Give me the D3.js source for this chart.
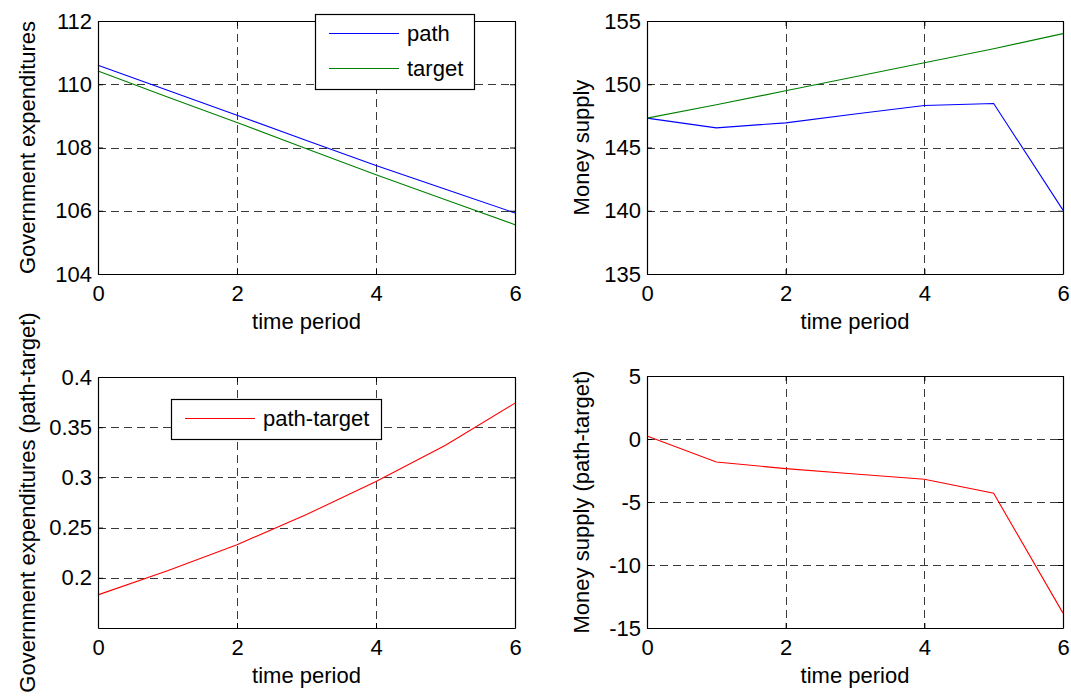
<!DOCTYPE html>
<html>
<head>
<meta charset="utf-8">
<script src="https://cdn.jsdelivr.net/npm/d3@7"></script>
<style>
  html, body { margin: 0; padding: 0; background: #fff; }
  svg { display: block; font-family: "Liberation Sans", Arial, Helvetica, sans-serif; }
</style>
</head>
<body>
<svg id="chart" width="1071" height="698"></svg>
<script>
// time periods shared by all four panels
const periods = [0, 1, 2, 3, 4, 5, 6];

// government expenditures: path and target
const govPath   = [110.60, 109.81, 109.02, 108.22, 107.43, 106.68, 105.93];
const govTarget = [110.42, 109.60, 108.79, 107.96, 107.14, 106.35, 105.56];
// government expenditures: path minus target
const govDiff   = [0.183, 0.207, 0.233, 0.263, 0.296, 0.332, 0.374];

// money supply: path and target
const moneyPath   = [147.32, 146.55, 146.95, 147.65, 148.32, 148.48, 140.05];
const moneyTarget = [147.32, 148.38, 149.48, 150.59, 151.70, 152.81, 154.00];
// money supply: path minus target
const moneyDiff   = [0.24, -1.82, -2.35, -2.78, -3.20, -4.31, -13.82];

// tick labels
const xTicks = [0, 2, 4, 6];
const govTicks = [104, 106, 108, 110, 112];
const govDiffTicks = [0.2, 0.25, 0.3, 0.35, 0.4];
const moneyTicks = [135, 140, 145, 150, 155];
const moneyDiffTicks = [-15, -10, -5, 0, 5];

const svg = d3.select("#chart");
const FONT = 22;

const panels = [
  { left: 98,  top: 21,  width: 417, height: 253, yDomain: [104, 112], yTicks: govTicks,
    yLabel: "Government expenditures", labelX: 35, fmt: d3.format("d"),
    series: [{ values: govPath, color: "#0000ff", name: "path" },
             { values: govTarget, color: "#008000", name: "target" }],
    legend: { x: 315, y: 14, w: 159, h: 75 } },
  { left: 647, top: 21,  width: 416, height: 253, yDomain: [135, 155], yTicks: moneyTicks,
    yLabel: "Money supply", labelX: 589, fmt: d3.format("d"),
    series: [{ values: moneyPath, color: "#0000ff" },
             { values: moneyTarget, color: "#008000" }] },
  { left: 98,  top: 377, width: 417, height: 251, yDomain: [0.15, 0.4], yTicks: govDiffTicks,
    yLabel: "Government expenditures (path-target)", labelX: 35, fmt: d => String(+d.toFixed(2)),
    series: [{ values: govDiff, color: "#ff0000", name: "path-target" }],
    legend: { x: 171, y: 399, w: 210, h: 40 } },
  { left: 647, top: 376, width: 416, height: 252, yDomain: [-15, 5], yTicks: moneyDiffTicks,
    yLabel: "Money supply (path-target)", labelX: 589, fmt: d => String(d),
    series: [{ values: moneyDiff, color: "#ff0000" }] }
];

panels.forEach(p => {
  const g = svg.append("g").attr("transform", `translate(${p.left},${p.top})`);
  const x = d3.scaleLinear().domain([0, 6]).range([0, p.width]);
  const y = d3.scaleLinear().domain(p.yDomain).range([p.height, 0]);

  // dashed grid
  const grid = g.append("g").attr("stroke", "#3a3a3a").attr("stroke-width", 1)
    .attr("stroke-dasharray", "8,5").attr("fill", "none");
  xTicks.forEach(t => {
    if (t === 0 || t === 6) return;
    const xv = Math.round(x(t)) + 0.5;
    grid.append("line").attr("x1", xv).attr("x2", xv).attr("y1", 0).attr("y2", p.height);
  });
  p.yTicks.forEach(t => {
    const yv = Math.round(y(t)) + 0.5;
    if (yv < 1 || yv > p.height - 1) return;
    grid.append("line").attr("x1", 0).attr("x2", p.width).attr("y1", yv).attr("y2", yv);
  });

  // data lines
  const line = d3.line().x((d, i) => x(periods[i])).y(d => y(d));
  p.series.forEach(s => {
    g.append("path").datum(s.values).attr("d", line)
      .attr("fill", "none").attr("stroke", s.color).attr("stroke-width", 1.1);
  });

  // axes with inward ticks on all four sides
  const styleAxis = sel => {
    sel.selectAll(".domain").attr("stroke", "#000").attr("stroke-width", 1.2);
    sel.selectAll(".tick line").attr("stroke", "#000");
    sel.selectAll("text").attr("fill", "#000").attr("font-size", FONT)
      .attr("font-family", "Liberation Sans, Arial, sans-serif");
  };
  g.append("g").attr("transform", `translate(0,${p.height})`)
    .call(d3.axisBottom(x).tickValues(xTicks).tickSizeInner(-5).tickSizeOuter(0).tickPadding(11).tickFormat(d3.format("d")))
    .call(styleAxis);
  g.append("g")
    .call(d3.axisLeft(y).tickValues(p.yTicks).tickSizeInner(-5).tickSizeOuter(0).tickPadding(6).tickFormat(p.fmt))
    .call(styleAxis);
  g.append("g")
    .call(d3.axisTop(x).tickValues(xTicks).tickSizeInner(-5).tickSizeOuter(0).tickFormat(""))
    .call(styleAxis);
  g.append("g").attr("transform", `translate(${p.width},0)`)
    .call(d3.axisRight(y).tickValues(p.yTicks).tickSizeInner(-5).tickSizeOuter(0).tickFormat(""))
    .call(styleAxis);

  // axis titles
  svg.append("text")
    .attr("x", p.left + p.width / 2).attr("y", p.top + p.height + 55)
    .attr("text-anchor", "middle").attr("font-size", FONT).text("time period");
  svg.append("text")
    .attr("transform", `translate(${p.labelX},${p.top + p.height / 2}) rotate(-90)`)
    .attr("text-anchor", "middle").attr("font-size", FONT).text(p.yLabel);

  // legend
  if (p.legend) {
    const L = p.legend;
    const lg = svg.append("g").attr("transform", `translate(${L.x},${L.y})`);
    lg.append("rect").attr("x", 0.5).attr("y", 0.5).attr("width", L.w).attr("height", L.h)
      .attr("fill", "#fff").attr("stroke", "#000").attr("stroke-width", 1.2);
    const n = p.series.length;
    p.series.forEach((s, i) => {
      const cy = Math.round(L.h * (i + 0.5) / n + (n > 1 ? (i === 0 ? 1 : -1) : 0)) - 0.5;
      lg.append("line").attr("x1", 14).attr("x2", 84).attr("y1", cy).attr("y2", cy)
        .style("stroke", s.color).attr("stroke-width", 1.2);
      lg.append("text").attr("x", 92).attr("y", cy).attr("dy", "0.35em")
        .attr("font-size", FONT).text(s.name);
    });
  }
});
</script>
</body>
</html>
